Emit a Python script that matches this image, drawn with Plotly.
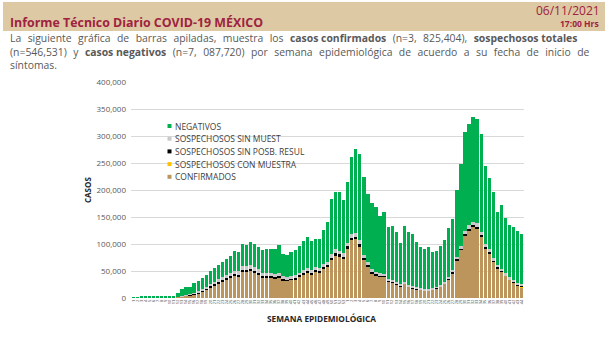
import plotly.graph_objects as go

# ---------------- DATA ----------------
semanas = [str(w) for w in range(1, 54)] + [str(w) for w in range(1, 45)]

confirmados = [0, 0, 0, 0, 0, 0, 0, 0, 10, 150,
               800, 1900, 3000, 3900, 5200, 7000, 9000, 12500, 16000, 20000,
               24000, 27500, 31000, 35000, 38000, 41000, 40000, 49000, 49500, 50500,
               47500, 44000, 38500, 38000, 38000, 36500, 38000, 33000, 31500, 33500,
               35000, 39500, 43000, 46500, 43000, 48500, 48000, 55000, 58500, 71500,
               79500, 77500, 73000, 92000, 108000, 109000, 96000, 71000, 58000, 46000,
               42500, 39500, 39500, 30500, 28500, 25000, 22000, 26000, 21000, 18500,
               16500, 15000, 14000, 14000, 15500, 18000, 21000, 26000, 34500, 46000,
               70000, 89000, 115000, 125000, 132000, 129000, 114000, 92000, 83000, 67000,
               55000, 49000, 41000, 33500, 28500, 23000, 19000]

sosp_con_muestra = [0] * 93 + [100, 300, 900, 3000]

sosp_sin_posib = [0, 0, 0, 0, 0, 0, 0, 0, 0, 10,
                  50, 150, 300, 400, 500, 700, 900, 1100, 1300, 1600,
                  1800, 2000, 2200, 2400, 2600, 2700, 2800, 3000, 3000, 3000,
                  2800, 2600, 2400, 2300, 2300, 2200, 2200, 2000, 1900, 2000,
                  2100, 2300, 2500, 2600, 2500, 2600, 2600, 2800, 2900, 3200,
                  3400, 3300, 3200, 3500, 3800, 3800, 3500, 3000, 2600, 2200,
                  2000, 1900, 1800, 1500, 1400, 1300, 1100, 1200, 1100, 1000,
                  900, 800, 800, 800, 800, 900, 1000, 1100, 1300, 1600,
                  2000, 2400, 2800, 3000, 3100, 3000, 2800, 2500, 2300, 2000,
                  1800, 1700, 1500, 1300, 1200, 1100, 1000]

sosp_sin_muestra = [0, 0, 0, 0, 0, 0, 0, 0, 0, 20,
                    200, 600, 1200, 1500, 1800, 2200, 2600, 3000, 3500, 4000,
                    4500, 5000, 5400, 5800, 6200, 6500, 6500, 7000, 7200, 7000,
                    6800, 6400, 6000, 5800, 5600, 5500, 5500, 5000, 4800, 4900,
                    5000, 5300, 5600, 5800, 5600, 5800, 5800, 6000, 6200, 6800,
                    7000, 7000, 6800, 7200, 7600, 7600, 7000, 6000, 5200, 4600,
                    4300, 4000, 3900, 3400, 3200, 3000, 2700, 2900, 2700, 2500,
                    2300, 2200, 2100, 2100, 2100, 2300, 2500, 2800, 3200, 3700,
                    4500, 5200, 6000, 6300, 6500, 6400, 6000, 5400, 5000, 4500,
                    4100, 3900, 3500, 3200, 3000, 2800, 2600]

negativos = [1000, 1800, 2000, 2000, 2000, 2000, 2000, 2200, 2290, 2620,
             3250, 5950, 12200, 14000, 13800, 17100, 19000, 20400, 22200, 24400,
             24700, 26500, 28400, 29800, 31200, 36800, 36700, 41000, 39300, 42500,
             42900, 41000, 41100, 43900, 45100, 46800, 51800, 42000, 40800, 45600,
             46900, 48900, 54400, 58100, 54900, 53100, 52200, 62200, 72400, 101100,
             106900, 107800, 98000, 112300, 142200, 155600, 160000, 144600, 126700, 123200,
             119200, 106600, 113800, 96600, 99900, 93200, 75700, 102900, 97200, 96000,
             83300, 77000, 73800, 77100, 66600, 65800, 71100, 77100, 91000, 94700,
             123500, 152400, 182800, 187700, 194000, 192600, 180800, 144100, 132400, 122500,
             99100, 118400, 101500, 96900, 97800, 97200, 92900]

series_names = ["CONFIRMADOS", "SOSPECHOSOS CON MUESTRA", "SOSPECHOSOS SIN POSB. RESUL",
                "SOSPECHOSOS SIN MUEST", "NEGATIVOS"]
series_values = [confirmados, sosp_con_muestra, sosp_sin_posib, sosp_sin_muestra, negativos]
series_colors = ["#BC955C", "#FFC000", "#000000", "#C9C9C9", "#00B050"]

y_ticks = [0, 50000, 100000, 150000, 200000, 250000, 300000, 350000, 400000]

# ---------------- LAYOUT HELPERS ----------------
W, H = 605, 337
L, R, T, B = 131, 81, 82, 39
PW, PH = W - L - R, H - T - B


def px(x):
    return (x - L) / PW


def py(y):
    return (H - B - y) / PH


FONT = "Open Sans"
WINE = "#9F2241"
GRAYTXT = "#595959"

x_idx = list(range(len(semanas)))

fig = go.Figure()
for name, vals, col in zip(series_names, series_values, series_colors):
    fig.add_trace(go.Bar(x=x_idx, y=vals, name=name, marker_color=col,
                         marker_line_width=0, showlegend=False))

annotations = []
shapes = []


def ann(**kw):
    d = dict(xref="paper", yref="paper", showarrow=False)
    d.update(kw)
    annotations.append(d)


# header band
shapes.append(dict(type="rect", xref="paper", yref="paper",
                   x0=px(3), x1=px(605), y0=py(31), y1=py(2),
                   fillcolor="#DDC9A3", line_width=0, layer="below"))

ann(text="<b>Informe Técnico Diario COVID-19 MÉXICO</b>",
    x=px(8), y=py(22), xanchor="left", yanchor="middle",
    font=dict(family=FONT, size=12.4, color=WINE))
ann(text="06/11/2021", x=px(602), y=py(10), xanchor="right",
    yanchor="middle", font=dict(family=FONT, size=12, color=WINE))
ann(text="<b>17:00 Hrs</b>", x=px(601), y=py(24), xanchor="right",
    yanchor="middle", font=dict(family=FONT, size=8.5, color=WINE))


# paragraph (widened word gaps to imitate the justified text)
def spread(text, gap, keep=()):
    out = gap.join(text.split(" "))
    for k in keep:
        out = out.replace(k.replace(" ", gap), k)
    return out


line1 = spread("La siguiente gráfica de barras apiladas, muestra los <b>casos confirmados</b> "
               "(n=3, 825,404), <b>sospechosos totales</b>", " \u00a0\u200a",
               keep=("<b>casos confirmados</b>", "<b>sospechosos totales</b>"))
line2 = spread("(n=546,531) y <b>casos negativos</b> (n=7, 087,720) por semana "
               "epidemiológica de acuerdo a su fecha de inicio de", " \u00a0\u200a",
               keep=("<b>casos negativos</b>",))
ann(text="<br>".join([line1, line2, "síntomas."]), x=px(8), y=py(29),
    xanchor="left", yanchor="top", align="left",
    font=dict(family=FONT, size=10.4, color=GRAYTXT))

# axis titles
ann(text="<b>CASOS</b>", x=px(87), y=py(190), textangle=-90,
    xanchor="center", yanchor="middle",
    font=dict(family=FONT, size=8, color="#262626"))
ann(text="<b>SEMANA EPIDEMIOLÓGICA</b>", x=px(321), y=py(318),
    xanchor="center", yanchor="middle",
    font=dict(family=FONT, size=8.3, color="#262626"))

# custom legend (top to bottom)
leg_rows = [("NEGATIVOS", "#00B050"), ("SOSPECHOSOS SIN MUEST", "#C9C9C9"),
            ("SOSPECHOSOS SIN POSB. RESUL", "#000000"),
            ("SOSPECHOSOS CON MUESTRA", "#FFC000"), ("CONFIRMADOS", "#BC955C")]
for k, (name, col) in enumerate(leg_rows):
    yc = 126 + 12.7 * k
    shapes.append(dict(type="rect", xref="paper", yref="paper",
                       x0=px(167.5), x1=px(171.5), y0=py(yc + 2), y1=py(yc - 2),
                       fillcolor=col, line_width=0))
    ann(text=name, x=px(172.5), y=py(yc), xanchor="left", yanchor="middle",
        font=dict(family=FONT, size=8.5, color="#404040"))

fig.update_layout(
    width=W, height=H,
    margin=dict(l=L, r=R, t=T, b=B),
    barmode="stack", bargap=0.2,
    paper_bgcolor="white", plot_bgcolor="white",
    showlegend=False,
    annotations=annotations, shapes=shapes,
    xaxis=dict(range=[-0.6, len(semanas) - 0.4], tickmode="array", tickvals=x_idx,
               ticktext=semanas, tickangle=-90, showgrid=False, zeroline=False,
               ticks="", tickfont=dict(family=FONT, size=4, color="#404040")),
    yaxis=dict(range=[0, 400000], tickmode="array", tickvals=y_ticks, tickformat=",",
               showgrid=True, gridcolor="#D9D9D9", gridwidth=1, zeroline=False,
               ticks="", ticklabelstandoff=4,
               tickfont=dict(family=FONT, size=8, color=GRAYTXT)),
)

fig.write_html("out.html")
